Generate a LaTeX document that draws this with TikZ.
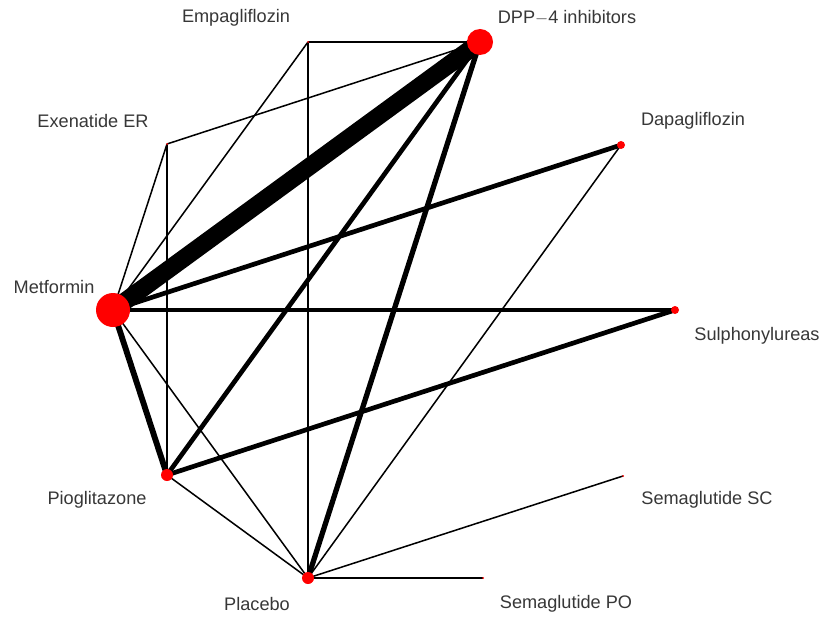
\documentclass[tikz,border=0pt]{standalone}
\usepackage{fontspec}
\setmainfont{Liberation Sans}
\definecolor{NodeRed}  {RGB}{255,0,0}
\definecolor{LabelGrey}{RGB}{55,55,55}
\usetikzlibrary{backgrounds}

\begin{document}
\begin{tikzpicture}[x=0.03cm,y=-0.03cm,
  trt/.style={circle,fill=NodeRed,inner sep=0pt},
  lbl/.style={font=\fontsize{15.5}{18}\selectfont,text=LabelGrey,
              inner sep=0pt},
  wk/.style={line width=1.3pt},
  md/.style={line width=2.2pt},
  st/.style={line width=4pt},
  vst/.style={line width=15pt}]
  \useasboundingbox (0,0) rectangle (825,624);
  % treatments
  \node[trt,minimum size=0.06cm](Empa) at (308,42){};
  \node[trt,minimum size=0.78cm](DPP) at (480,42){};
  \node[trt,minimum size=0.06cm](Exen) at (167,144){};
  \node[trt,minimum size=0.24cm](Dapa) at (621,145){};
  \node[trt,minimum size=1.02cm](Metf) at (113,310){};
  \node[trt,minimum size=0.24cm](Sulp) at (675,310){};
  \node[trt,minimum size=0.36cm](Piog) at (167,475){};
  \node[trt,minimum size=0.06cm](SemSC) at (623,476){};
  \node[trt,minimum size=0.36cm](Plac) at (308,578){};
  \node[trt,minimum size=0.06cm](SemPO) at (483,578){};
  % labels
  \node[lbl](Empa-l) at (236,18){Empagliflozin};
  \node[lbl](DPP-l) at (567,18){DPP$-$4 inhibitors};
  \node[lbl](Exen-l) at (93,121){Exenatide ER};
  \node[lbl](Dapa-l) at (693,121){Dapagliflozin};
  \node[lbl](Metf-l) at (54,287){Metformin};
  \node[lbl](Sulp-l) at (757,336){Sulphonylureas};
  \node[lbl](Piog-l) at (97,500){Pioglitazone};
  \node[lbl](SemSC-l) at (707,500){Semaglutide SC};
  \node[lbl](Plac-l) at (257,604){Placebo};
  \node[lbl](SemPO-l) at (566,604){Semaglutide PO};
  % comparisons
  \begin{scope}[on background layer]
    \fill[white](0,0) rectangle (825,624);
    \draw[vst](Metf.center)--(DPP.center);
    \draw[st](Metf.center)--(Dapa.center);
    \draw[st](Metf.center)--(Sulp.center);
    \draw[st,line width=5pt](Metf.center)--(Piog.center);
    \draw[wk](Metf.center)--(Empa.center);
    \draw[wk](Metf.center)--(Exen.center);
    \draw[wk](Metf.center)--(Plac.center);
    \draw[wk](Empa.center)--(DPP.center);
    \draw[wk](Empa.center)--(Plac.center);
    \draw[wk](Exen.center)--(DPP.center);
    \draw[wk](Exen.center)--(Piog.center);
    \draw[st](DPP.center)--(Piog.center);
    \draw[st,line width=4.5pt](DPP.center)--(Plac.center);
    \draw[wk](Dapa.center)--(Plac.center);
    \draw[st](Sulp.center)--(Piog.center);
    \draw[wk](Piog.center)--(Plac.center);
    \draw[wk](SemSC.center)--(Plac.center);
    \draw[md](SemPO.center)--(Plac.center);
  \end{scope}
\end{tikzpicture}
\end{document}
